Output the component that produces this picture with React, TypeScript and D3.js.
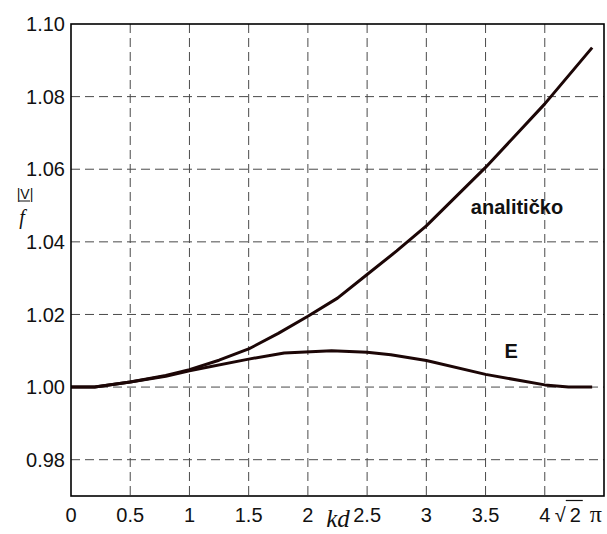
import React from "react";
import { scaleLinear, line, curveLinear } from "d3";

// values
const xTicks = [0, 0.5, 1, 1.5, 2, 2.5, 3, 3.5, 4];
const yTicks = [0.98, 1.0, 1.02, 1.04, 1.06, 1.08, 1.1];

const analitickoX = [0, 0.2, 0.5, 0.8, 1.0, 1.25, 1.5, 1.75, 2.0, 2.25, 2.5, 2.75, 3.0, 3.5, 4.0, 4.4];
const analitickoY = [1.0, 1.0, 1.0014, 1.0032, 1.0048, 1.0074, 1.0105, 1.0148, 1.0195, 1.0245, 1.031, 1.0375, 1.0444, 1.0605, 1.078, 1.0935];

const eX = [0, 0.2, 0.5, 0.8, 1.0, 1.5, 1.8, 2.2, 2.5, 2.7, 3.0, 3.5, 4.0, 4.2, 4.4];
const eY = [1.0, 1.0, 1.0014, 1.003, 1.0045, 1.0077, 1.0094, 1.01, 1.0096, 1.0089, 1.0073, 1.0035, 1.0006, 1.0, 1.0];

const sans = "'Liberation Sans', Arial, Helvetica, sans-serif";
const serif = "'Liberation Serif', 'Times New Roman', serif";

export default function App() {
  const width = 607;
  const height = 534;
  const margin = { top: 24, right: 3, bottom: 38, left: 71 };

  const x = scaleLinear().domain([0, 4.5]).range([margin.left, width - margin.right]);
  const y = scaleLinear().domain([0.97, 1.1]).range([height - margin.bottom, margin.top]);

  const path = line<[number, number]>()
    .x(d => x(d[0]))
    .y(d => y(d[1]))
    .curve(curveLinear);

  const analitickoPts = analitickoX.map((v, i) => [v, analitickoY[i]] as [number, number]);
  const ePts = eX.map((v, i) => [v, eY[i]] as [number, number]);

  const [x0, x1] = x.range();
  const [y0, y1] = y.range(); // y0 bottom, y1 top
  const curveColor = "#1c0606";

  return (
    <div style={{ position: "absolute", left: 0, top: 0 }}>
      <svg width={width} height={height} style={{ display: "block", background: "#fff" }}>
        {/* grid */}
        {xTicks.filter(t => t > 0).map(t => (
          <line key={"gx" + t} x1={x(t)} x2={x(t)} y1={y1} y2={y0}
            stroke="#4a4a4a" strokeWidth={1} strokeDasharray="9,5" />
        ))}
        {yTicks.filter(t => t < 1.1).map(t => (
          <line key={"gy" + t} x1={x0} x2={x1} y1={y(t)} y2={y(t)}
            stroke="#4a4a4a" strokeWidth={1} strokeDasharray="9,5" />
        ))}

        {/* curves */}
        <path d={path(analitickoPts) || ""} fill="none" stroke={curveColor} strokeWidth={3} strokeLinejoin="round" />
        <path d={path(ePts) || ""} fill="none" stroke={curveColor} strokeWidth={3} strokeLinejoin="round" />

        {/* frame */}
        <rect x={x0} y={y1} width={x1 - x0} height={y0 - y1} fill="none" stroke="#000" strokeWidth={1.6} />

        {/* y tick labels */}
        {yTicks.map(t => (
          <text key={"ly" + t} x={x0 - 6} y={y(t)} dy="0.36em" textAnchor="end"
            fontFamily={sans} fontSize={20} fill="#111">
            {t.toFixed(2)}
          </text>
        ))}

        {/* x tick labels */}
        {xTicks.map(t => (
          <text key={"lx" + t} x={x(t)} y={y0 + 26} textAnchor="middle"
            fontFamily={sans} fontSize={20} fill="#111">
            {String(t)}
          </text>
        ))}
        <g fill="#111">
          <text x={x(4) + 10} y={y0 + 26} fontFamily={sans} fontSize={20}>√</text>
          <line x1={x(4) + 21} x2={x(4) + 38} y1={y0 + 4.5} y2={y0 + 4.5} stroke="#111" strokeWidth={1.2} />
          <text x={x(4) + 25} y={y0 + 26} fontFamily={sans} fontSize={20}>2</text>
          <text x={x(4) + 45} y={y0 + 26} fontFamily={serif} fontSize={24}>π</text>
        </g>

        {/* axis titles */}
        <text x={338} y={527} textAnchor="middle" fontFamily={serif} fontStyle="italic" fontSize={25} fill="#111">kd</text>
        <text x={25} y={199} textAnchor="middle" fontFamily={sans} fontSize={14} fill="#111">|V|</text>
        <line x1={19} x2={30} y1={201} y2={201} stroke="#111" strokeWidth={1} />
        <text x={22} y={224} textAnchor="middle" fontFamily={serif} fontStyle="italic" fontSize={20} fill="#111">f</text>

        {/* curve labels */}
        <text x={x(3.376)} y={y(1.0476)} fontFamily={sans} fontWeight="bold" fontSize={20} fill="#111">analitičko</text>
        <text x={x(3.659)} y={y(1.0081)} fontFamily={sans} fontWeight="bold" fontSize={20} fill="#111">E</text>
      </svg>
    </div>
  );
}
